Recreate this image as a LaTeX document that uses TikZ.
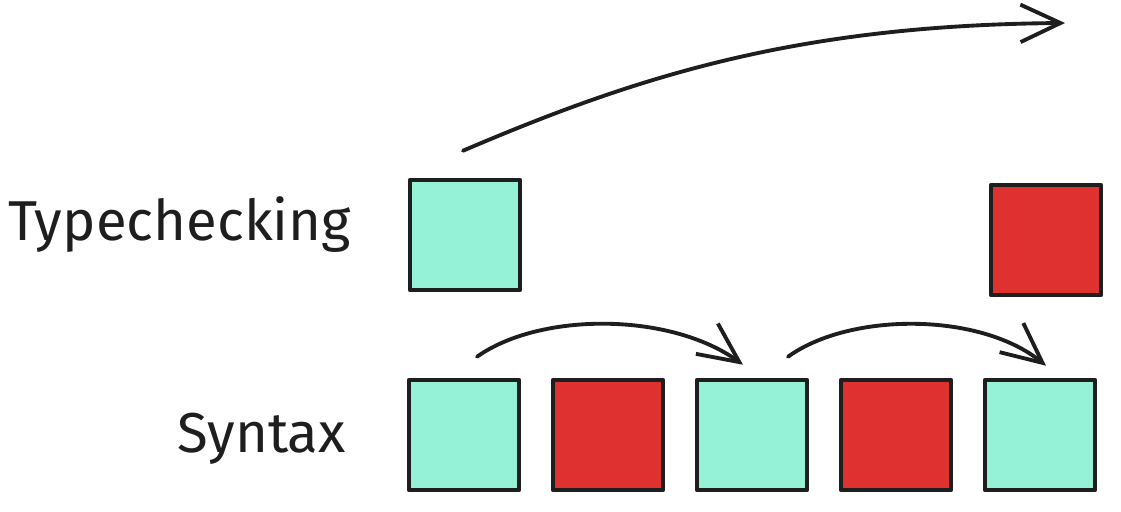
\documentclass[tikz,border=0pt]{standalone}
\usepackage{fontspec}
\setmainfont{Fira Sans}
\usetikzlibrary{arrows.meta, positioning, calc}

\definecolor{ink}{HTML}{1E1E1E}
\definecolor{tealbox}{HTML}{96F2D7}
\definecolor{redbox}{HTML}{E03131}

\begin{document}
\begin{tikzpicture}[
    x=0.02cm, y=-0.02cm,
    box/.style={draw=ink, line width=2.6pt, line join=round,
                minimum width=2.2cm, minimum height=2.2cm, inner sep=0pt},
    label/.style={font=\fontsize{32}{38}\selectfont, text=ink},
    hop/.style={draw=ink, line width=2.2pt, line cap=round,
                -{Straight Barb[length=0.8cm, width=0.75cm, line width=2.2pt]}},
    >=Stealth
  ]
  \useasboundingbox (0,0) rectangle (1121,511);

  % layer names
  \node[label, anchor=base east] (typ) at (357,240) {Typechecking};
  \node[label, anchor=base east] (syn) at (352,452) {Syntax};

  % typechecking layer
  \node[box, fill=tealbox] (t1) at (465,235) {};
  \node[box, fill=redbox] (t2) at (1046,240) {};

  % syntax layer
  \foreach \c [count=\i] in {tealbox,redbox,tealbox,redbox,tealbox} {
    \node[box, fill=\c] (s\i) at (320+144*\i, 435) {};
  }

  % arrows
  \coordinate (goal) at (1065,23);
  \draw[hop] ($(t1.north)+(-2,-27)$) .. controls (640,75) and (800,25) .. (goal);
  \draw[hop] ($(s1.north)+(13,-21)$) .. controls (540,312) and (670,312) .. ($(s3.north)+(-9,-13)$);
  \draw[hop] ($(s3.north)+(36,-21)$) .. controls (850,312) and (980,312) .. ($(s5.north)+(6,-12)$);
\end{tikzpicture}
\end{document}
